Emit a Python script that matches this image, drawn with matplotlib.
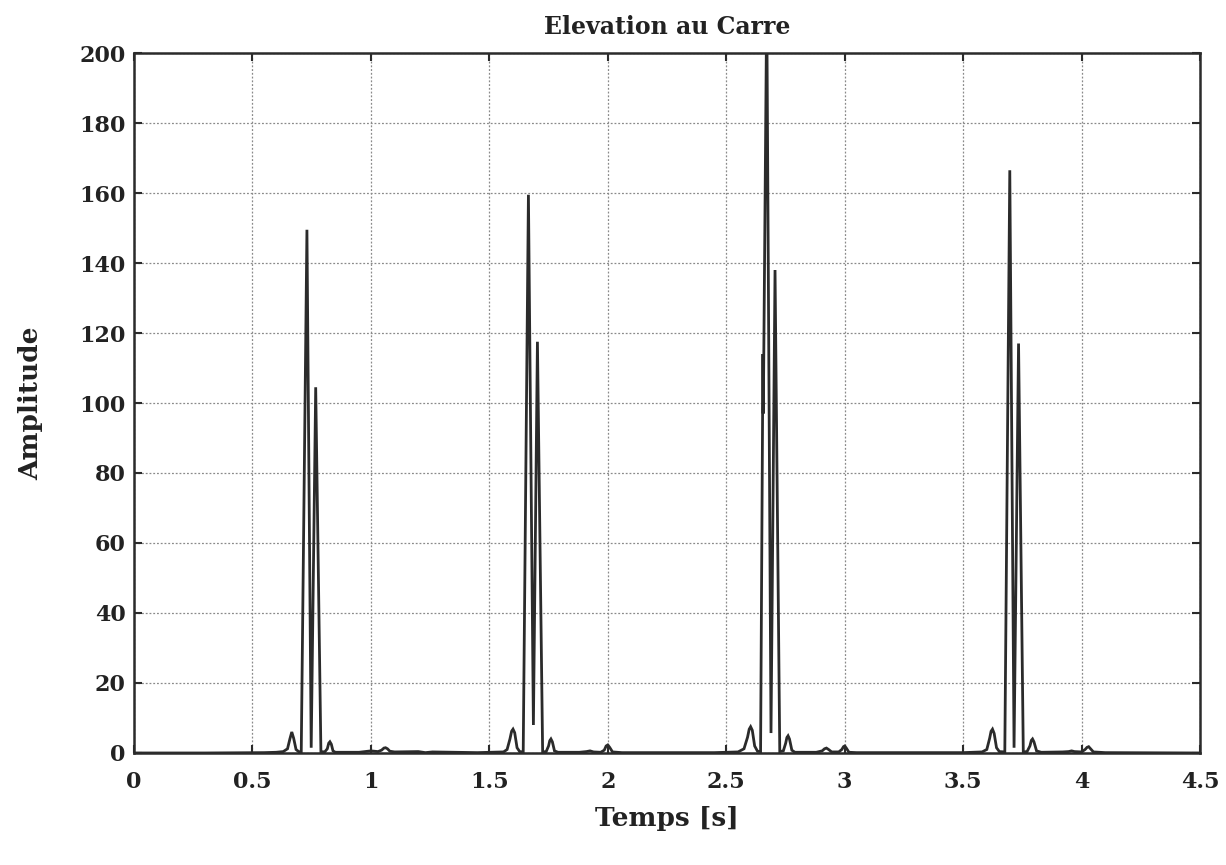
import matplotlib
matplotlib.use("Agg")
import matplotlib.pyplot as plt

# Breakpoints of the squared signal (time [s], amplitude)
time_s = [
    0.00, 0.30, 0.55, 0.60, 0.63, 0.648, 0.658, 0.666, 0.674, 0.684, 0.695, 0.706,
    0.730, 0.748, 0.767, 0.789, 0.805, 0.816, 0.822, 0.827, 0.833, 0.840, 0.85,
    0.95, 1.00, 1.03, 1.045, 1.055, 1.062, 1.07, 1.08, 1.10, 1.20, 1.23, 1.26,
    1.45, 1.56, 1.575, 1.587, 1.594, 1.600, 1.607, 1.617, 1.628, 1.643,
    1.665, 1.686, 1.703, 1.725, 1.740, 1.750, 1.755, 1.760, 1.766, 1.775, 1.79,
    1.88, 1.91, 1.925, 1.94, 1.97, 1.985, 1.993, 2.000, 2.008, 2.02, 2.06,
    2.45, 2.55, 2.575, 2.590, 2.597, 2.603, 2.610, 2.620, 2.632, 2.645,
    2.655, 2.6565, 2.671, 2.689, 2.706, 2.726, 2.741, 2.751, 2.756, 2.761, 2.767,
    2.777, 2.79, 2.88, 2.905, 2.915, 2.923, 2.932, 2.945, 2.975, 2.988, 2.995,
    3.000, 3.006, 3.018, 3.05,
    3.50, 3.58, 3.600, 3.612, 3.618, 3.624, 3.631, 3.641, 3.653, 3.676,
    3.697, 3.715, 3.734, 3.754, 3.770, 3.782, 3.788, 3.793, 3.799, 3.810, 3.83,
    3.92, 3.945, 3.958, 3.97, 4.00, 4.015, 4.023, 4.030, 4.038, 4.05, 4.10, 4.50,
]
amplitude = [
    0.0, 0.0, 0.1, 0.2, 0.4, 1.2, 4.0, 6.0, 4.2, 1.0, 0.4, 0.3,
    149.5, 1.5, 104.5, 0.4, 0.3, 1.2, 2.8, 3.2, 2.5, 0.6, 0.2,
    0.2, 0.6, 0.4, 0.8, 1.4, 1.5, 1.2, 0.5, 0.3, 0.4, 0.1, 0.3,
    0.1, 0.3, 1.0, 4.0, 6.2, 6.8, 5.8, 1.5, 0.4, 0.3,
    159.5, 8.0, 117.5, 0.3, 0.4, 2.0, 3.5, 4.0, 3.2, 0.6, 0.2,
    0.2, 0.4, 0.6, 0.3, 0.2, 0.8, 2.0, 2.3, 1.6, 0.3, 0.1,
    0.1, 0.3, 1.2, 4.5, 6.8, 7.5, 6.5, 2.0, 0.5, 0.4,
    114.0, 97.0, 215.0, 5.7, 138.0, 0.4, 0.6, 2.8, 4.4, 4.9, 4.0,
    0.8, 0.2, 0.2, 0.6, 1.2, 1.4, 1.0, 0.3, 0.3, 1.0, 1.8,
    2.0, 1.5, 0.2, 0.1,
    0.1, 0.3, 1.0, 4.2, 6.2, 6.8, 5.6, 1.5, 0.4, 0.3,
    166.5, 1.5, 117.0, 0.3, 0.4, 2.0, 3.6, 4.0, 3.2, 0.6, 0.2,
    0.3, 0.4, 0.6, 0.4, 0.3, 1.0, 1.6, 1.8, 1.2, 0.3, 0.1, 0.0,
]

x_ticks = [0, 0.5, 1, 1.5, 2, 2.5, 3, 3.5, 4, 4.5]
x_tick_labels = ["0", "0.5", "1", "1.5", "2", "2.5", "3", "3.5", "4", "4.5"]
y_ticks = [0, 20, 40, 60, 80, 100, 120, 140, 160, 180, 200]

plt.rcParams['font.family'] = ['DejaVu Serif']

fig = plt.figure(figsize=(12.26, 8.65), dpi=100)
ax = fig.add_axes([0.1093, 0.1295, 0.8695, 0.8092])

ax.plot(time_s, amplitude, color="#2b2b2b", linewidth=2.0, solid_joinstyle="miter")

ax.set_xlim(0, 4.5)
ax.set_ylim(0, 200)
ax.set_xticks(x_ticks)
ax.set_xticklabels(x_tick_labels)
ax.set_yticks(y_ticks)

ax.grid(True, color="#8a8a8a", linestyle=(0, (1.5, 1.5)), linewidth=0.9)
ax.set_axisbelow(True)

for side in ["top", "bottom", "left", "right"]:
    ax.spines[side].set_linewidth(1.8)
    ax.spines[side].set_color("#2b2b2b")

ax.tick_params(axis="both", direction="in", length=6, width=1.5, colors="#2b2b2b",
               labelsize=16, top=True, right=True)
ax.tick_params(axis="x", pad=13)
ax.tick_params(axis="y", pad=6)
for lab in ax.get_xticklabels() + ax.get_yticklabels():
    lab.set_fontweight("bold")
    lab.set_color("#222222")

ax.set_title("Elevation au Carre", fontsize=17, fontweight="bold", pad=14, color="#222222")
ax.set_xlabel("Temps [s]", fontsize=19, fontweight="bold", labelpad=9, color="#222222")
ax.set_ylabel("Amplitude", fontsize=19, fontweight="bold", labelpad=26, color="#222222")

fig.savefig("out.png", dpi=100)
